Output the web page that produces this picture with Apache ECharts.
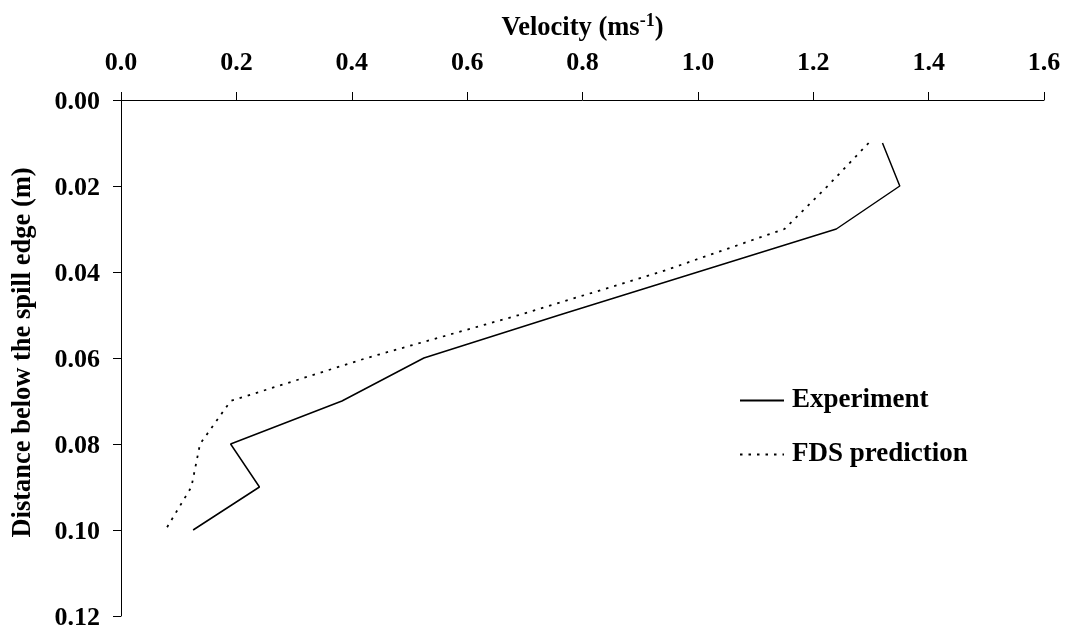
<!DOCTYPE html>
<html><head><meta charset="utf-8">
<style>html,body{margin:0;padding:0;background:#fff}#c{width:1069px;height:632px}</style>
<script src="https://cdn.jsdelivr.net/npm/echarts@6/dist/echarts.min.js"></script>
</head><body><div id="c"></div>
<script>
const distance = [0.01,0.02,0.03,0.04,0.05,0.06,0.07,0.08,0.09,0.10];
const experiment = [1.32,1.35,1.24,1.0,0.76,0.525,0.383,0.19,0.24,0.125];
const fds = [1.296,1.225,1.15,0.935,0.69,0.426,0.19,0.137,0.122,0.077];
const font = '"Liberation Serif"';
const pairs = v => v.map((x,i)=>[x,distance[i]]);
const chart = echarts.init(document.getElementById('c'),null,{renderer:'canvas'});
const label = {fontFamily:font,fontWeight:'bold',fontSize:26,color:'#000'};
const title = {...label,fontSize:26.5};
const axisLine = {show:true,onZero:false,lineStyle:{color:'#000',width:1}};
const axisTick = {show:true,length:8,lineStyle:{color:'#000',width:1}};
chart.setOption({
  animation:false,
  backgroundColor:'#fff',
  color:['#000','#000'],
  grid:{left:121,right:25,top:100,bottom:16,outerBoundsMode:'none'},
  legend:{
    left:734,top:382,orient:'vertical',itemGap:27,itemWidth:44,itemHeight:28,
    itemStyle:{opacity:0},
    textStyle:{...label,fontSize:27,padding:[0,0,0,3]},
    data:['Experiment','FDS prediction']
  },
  xAxis:{
    type:'value',position:'top',min:0,max:1.6,interval:0.2,
    name:'{a|Velocity (ms}{s|-1}{a|)}',nameLocation:'middle',nameGap:58,nameMoveOverlap:false,
    nameTextStyle:{rich:{a:{...title,lineHeight:30,verticalAlign:'bottom'},s:{...title,fontSize:18,lineHeight:18,verticalAlign:'top'}}},
    axisLine,axisTick,splitLine:{show:false},
    axisLabel:{...label,margin:24,formatter:v=>v.toFixed(1)}
  },
  yAxis:{
    type:'value',inverse:true,min:0,max:0.12,interval:0.02,
    name:'{a|Distance below the spill edge (m)}',nameLocation:'middle',nameGap:84,nameMoveOverlap:false,
    nameTextStyle:{rich:{a:{...title,padding:[0,0,0,11]}}},
    axisLine,axisTick,splitLine:{show:false},
    axisLabel:{...label,margin:21,verticalAlign:'top',lineHeight:5,formatter:v=>v.toFixed(2)}
  },
  series:[
    {name:'Experiment',type:'line',data:pairs(experiment),showSymbol:false,symbol:'none',lineStyle:{color:'#000',width:1.5}},
    {name:'FDS prediction',type:'line',data:pairs(fds),showSymbol:false,symbol:'none',lineStyle:{color:'#000',width:1.8,type:[2.5,6]}}
  ]
});
</script></body></html>
